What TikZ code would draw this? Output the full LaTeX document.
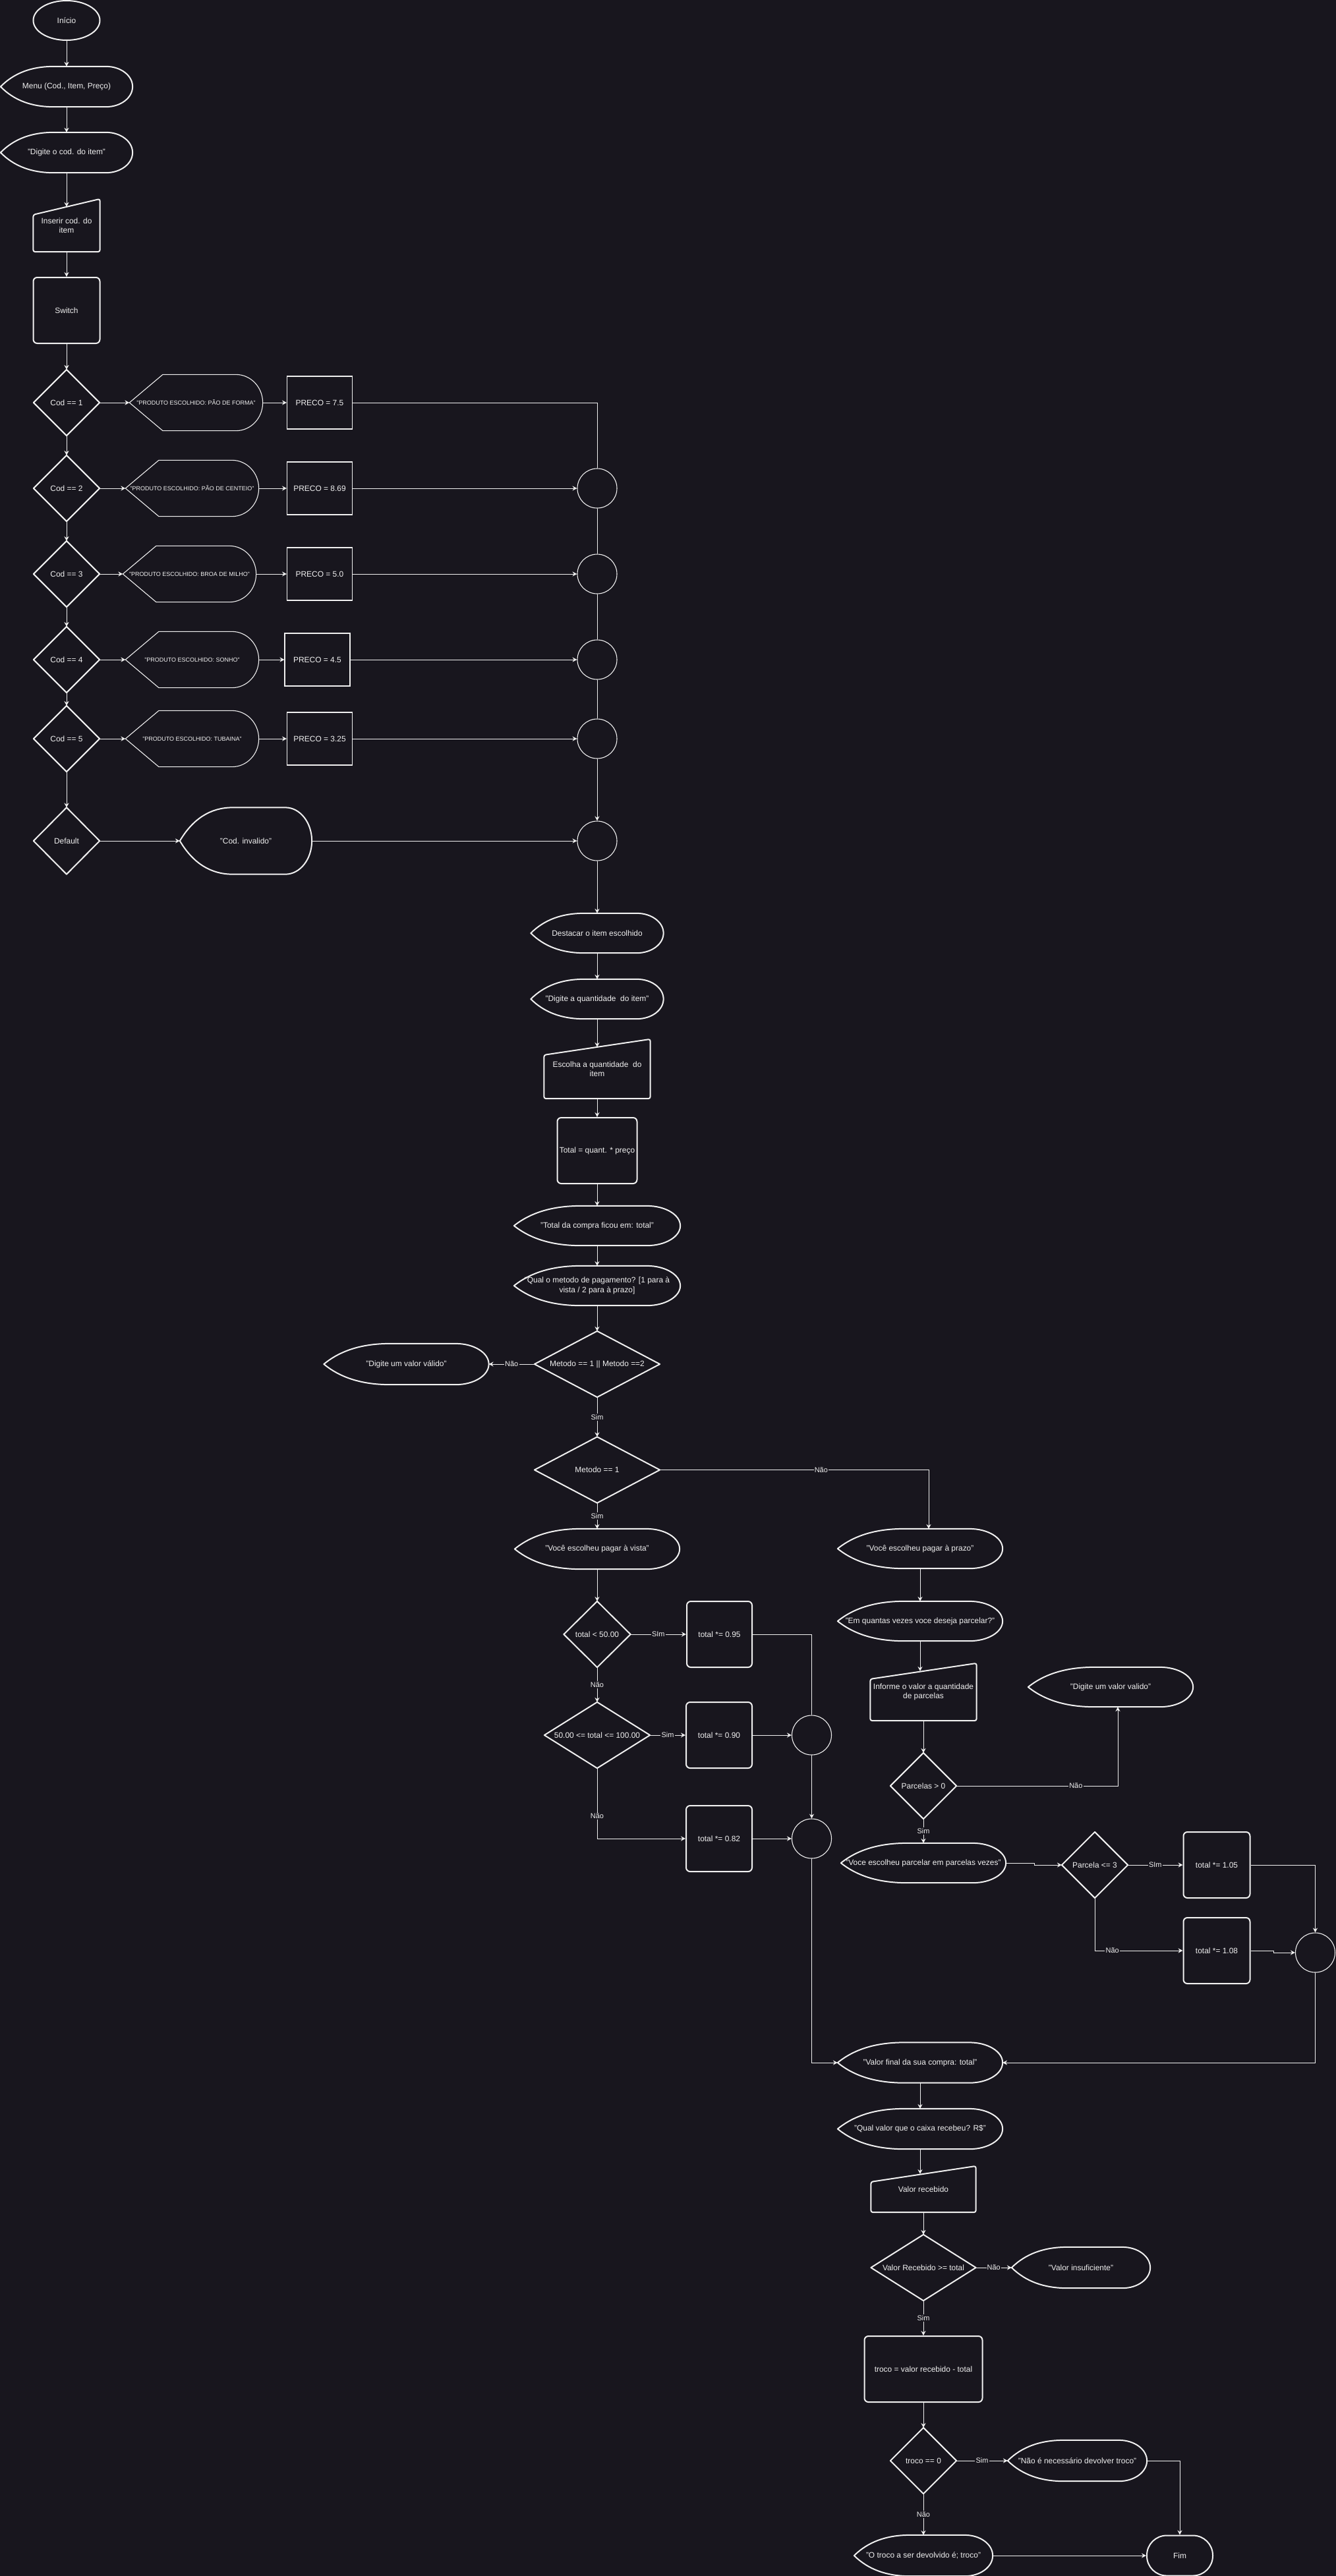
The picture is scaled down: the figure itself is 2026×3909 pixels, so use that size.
\documentclass[tikz,border=0pt]{standalone}
\usepackage{fontspec}
\setmainfont{Liberation Sans}
\usepackage{tikz}
\usetikzlibrary{shapes.geometric,arrows.meta,calc}
\definecolor{clrBg}{HTML}{18161E}
\definecolor{clrLine}{HTML}{F0F0F0}
\definecolor{clrTxt}{HTML}{F0F0F0}
\tikzset{
  sz/.style 2 args={minimum width=#1*0.5mm, minimum height=#2*0.5mm},
  box/.style={rectangle, inner sep=0pt, align=center, text=clrTxt,
    font=\fontsize{17}{20.5}\selectfont},
  prodbox/.style={box, font=\fontsize{12.8}{15}\selectfont},
  termin/.style={box, ellipse, draw=clrLine, line width=1mm},
  procbox/.style={box, draw=clrLine, line width=1mm, rounded corners=3mm},
  precobox/.style={box, draw=clrLine, line width=0.55mm},
  stadium/.style={box, draw=clrLine, line width=1mm, rounded corners=15mm},
  junc/.style={circle, draw=clrLine, line width=0.55mm, minimum size=30mm,
    inner sep=0pt},
  outl/.style={draw=clrLine, line width=1mm, line join=round},
  outlthin/.style={draw=clrLine, line width=0.55mm, line join=round},
  flow/.style={-{Stealth[length=3.5mm, width=3.6mm, inset=1.2mm]},
    line width=0.5mm, clrLine},
  bus/.style={line width=0.5mm, clrLine},
  lbl/.style={fill=clrBg, inner sep=0.6mm, text=clrTxt,
    font=\fontsize{15.6}{18}\selectfont},
}
\begin{document}
\begin{tikzpicture}[x=0.5mm, y=-0.5mm]
% Raster in Pixeln der Vorlage: 1 px = 0.5 mm, y waechst nach unten.
\useasboundingbox (0,0) rectangle (2026,3909);
\fill[clrBg] (-10,-10) rectangle (2036,3919);

% ── Inicio e leitura do codigo ─────────────────────────────────────────────
\node[termin, sz={101}{60}] (ini) at (101,31) {Início};
\node[box, sz={200}{61}] (menu) at (101,131.5) {Menu (Cod., Item, Preço)};
\node[box, sz={200}{61}] (digcod) at (101,231.5) {"Digite o cod. do item"};
\node[box, sz={101}{80}] (insc) at (101,342) {Inserir cod. do\\item};
\node[procbox, sz={101}{100}] (sw) at (101,471) {Switch};

% ── casos do switch ────────────────────────────────────────────────────────
\foreach \i/\y/\hx/\px/\txt/\val in {
    1/611/297.5/485/PÃO DE FORMA/7.5,
    2/741/291.5/485/PÃO DE CENTEIO/8.69,
    3/871/287.5/485/BROA DE MILHO/5.0,
    4/1001/291.5/481.5/SONHO/4.5,
    5/1121/291.5/485/TUBAINA/3.25}{
  \node[box, sz={100}{100}] (c\i) at (101,\y) {Cod == \i};
  \node[prodbox, sz={202}{85}] (h\i) at (\hx,\y) {"PRODUTO ESCOLHIDO: \txt"};
  \node[precobox, sz={99}{80}] (pr\i) at (\px,\y) {PRECO = \val};
}
\foreach \i/\y in {2/741,3/871,4/1001,5/1121}
  \node[junc] (k\i) at (906,\y) {};
\node[box, sz={100}{101}] (dflt) at (101,1276) {Default};
\node[box, sz={200}{101}] (inval) at (373,1276) {"Cod. invalido"};
\node[junc] (k6) at (906,1276) {};

% ── quantidade e metodo ────────────────────────────────────────────────────
\node[box, sz={201}{60}] (dest) at (906,1416) {Destacar o item escolhido};
\node[box, sz={201}{60}] (digq) at (906,1516) {"Digite a quantidade~ do item"};
\node[box, sz={161}{90}] (escq) at (906,1622) {Escolha a quantidade~ do\\item};
\node[procbox, sz={121}{100}] (tot) at (906,1746) {Total = quant. * preço};
\node[box, sz={252}{60}] (totc) at (906,1860) {"Total da compra ficou em: total"};
\node[box, sz={252}{60}] (qmet) at (906,1951)
  {"Qual o metodo de pagamento? [1 para à\\vista / 2 para à prazo]};
\node[box, sz={190}{100}] (dm1) at (906,2070) {Metodo == 1 || Metodo ==2};
\node[box, sz={250}{62}] (digv) at (616.5,2070) {"Digite um valor válido"};
\node[box, sz={190}{100}] (dm2) at (906,2230.5) {Metodo == 1};

% ── a vista ────────────────────────────────────────────────────────────────
\node[box, sz={250}{61}] (vista) at (906,2350.5) {"Você escolheu pagar à vista"};
\node[box, sz={101}{100}] (d50) at (906,2480) {total < 50.00};
\node[procbox, sz={99}{100}] (t95) at (1091.5,2480) {total *= 0.95};
\node[box, sz={160}{100}] (d100) at (906,2633) {50.00 <= total <= 100.00};
\node[procbox, sz={100}{100}] (t90) at (1091,2633) {total *= 0.90};
\node[procbox, sz={100}{100}] (t82) at (1091,2790) {total *= 0.82};
\node[junc] (ka) at (1231.5,2633) {};
\node[junc] (kb) at (1231.5,2790) {};

% ── a prazo ────────────────────────────────────────────────────────────────
\node[box, sz={250}{60}] (prazo) at (1396,2350) {"Você escolheu pagar à prazo"};
\node[box, sz={250}{60}] (quant) at (1396,2460)
  {"Em quantas vezes voce deseja parcelar?"};
\node[box, sz={161}{87}] (infp) at (1401,2567.5)
  {Informe o valor a quantidade\\de parcelas};
\node[box, sz={250}{60}] (digv2) at (1685,2560) {"Digite um valor valido"};
\node[box, sz={100}{100}] (dp0) at (1401,2710) {Parcelas > 0};
\node[box, sz={250}{60}] (parc) at (1401,2827)
  {"Voce escolheu parcelar em parcelas vezes"};
\node[box, sz={100}{100}] (dp3) at (1661,2830) {Parcela <= 3};
\node[procbox, sz={101}{100}] (t105) at (1846,2830) {total *= 1.05};
\node[procbox, sz={101}{100}] (t108) at (1846,2960) {total *= 1.08};
\node[junc] (kc) at (1995.5,2963) {};

% ── pagamento e troco ──────────────────────────────────────────────────────
\node[box, sz={250}{61}] (vfin) at (1396,3130) {"Valor final da sua compra: total"};
\node[box, sz={250}{61}] (qcx) at (1396,3230.5)
  {"Qual valor que o caixa recebeu? R\$"};
\node[box, sz={159}{70}] (vrec) at (1401,3322) {Valor recebido};
\node[box, sz={159}{100}] (drec) at (1401,3441) {Valor Recebido >= total};
\node[box, sz={210}{62}] (vins) at (1640,3441) {"Valor insuficiente"};
\node[procbox, sz={179}{100}] (troco) at (1401,3595)
  {troco = valor recebido - total};
\node[box, sz={100}{100}] (dt0) at (1401,3734) {troco == 0};
\node[box, sz={211}{62}] (nao) at (1634.5,3734)
  {"Não é necessário devolver troco"};
\node[box, sz={210}{62}] (otroco) at (1401,3878)
  {"O troco a ser devolvido é; troco"};
\node[stadium, sz={100}{61}] (fim) at (1790,3878) {Fim};

% ── contornos ──────────────────────────────────────────────────────────────
% display: ponta curva a esquerda, lado direito arredondado
\foreach \s in {menu,digcod,inval,dest,digq,totc,qmet,digv,vista,prazo,quant,
    digv2,parc,vfin,qcx,vins,nao,otroco}
  \draw[outl] let \p1=(\s.north west), \p2=(\s.south east), \p3=(\s.center) in
    (\x1,\y3) .. controls ({\x1+0.1*(\x2-\x1)},{\y1-(\y1-\y2)/6})
      and ({\x1+0.233*(\x2-\x1)},\y1) .. ({\x1+0.4*(\x2-\x1)},\y1)
    -- ({\x1+0.8*(\x2-\x1)},\y1)
    .. controls ({\x1+0.91*(\x2-\x1)},\y1) and (\x2,{\y3+0.552*(\y1-\y3)})
      .. (\x2,\y3)
    .. controls (\x2,{\y3-0.552*(\y1-\y3)}) and ({\x1+0.91*(\x2-\x1)},\y2)
      .. ({\x1+0.8*(\x2-\x1)},\y2)
    -- ({\x1+0.4*(\x2-\x1)},\y2)
    .. controls ({\x1+0.233*(\x2-\x1)},\y2) and ({\x1+0.1*(\x2-\x1)},{\y2+(\y1-\y2)/6})
      .. (\x1,\y3) -- cycle;
% produto: ponta reta
\foreach \s in {h1,h2,h3,h4,h5}
  \draw[outlthin] let \p1=(\s.north west), \p2=(\s.south east), \p3=(\s.center) in
    (\x1,\y3) -- ({\x1+0.25*(\x2-\x1)},\y1) -- ({\x1+0.8*(\x2-\x1)},\y1)
    .. controls ({\x1+0.91*(\x2-\x1)},\y1) and (\x2,{\y3+0.552*(\y1-\y3)})
      .. (\x2,\y3)
    .. controls (\x2,{\y3-0.552*(\y1-\y3)}) and ({\x1+0.91*(\x2-\x1)},\y2)
      .. ({\x1+0.8*(\x2-\x1)},\y2)
    -- ({\x1+0.25*(\x2-\x1)},\y2) -- cycle;
% entrada manual
\foreach \s in {insc,escq,infp,vrec}
  \draw[outl, rounded corners=1.5mm] let \p1=(\s.north west), \p2=(\s.south east) in
    ({(\x1+\x2)/2},\y2) -- (\x1,\y2) -- (\x1,{\y1-12mm}) -- (\x2,\y1)
    -- (\x2,\y2) -- cycle;
% decisoes
\foreach \s in {c1,c2,c3,c4,c5,dflt,dm1,dm2,d50,d100,dp0,dp3,drec,dt0}
  \draw[outl] (\s.north) -- (\s.east) -- (\s.south) -- (\s.west) -- cycle;

\coordinate (inscin) at ([yshift=-6mm]insc.north);
\coordinate (escqin) at ([yshift=-6mm]escq.north);
\coordinate (infpin) at ([yshift=-6mm]infp.north);
\coordinate (vrecin) at ([yshift=-6mm]vrec.north);

% ── ligacoes: menu e switch ────────────────────────────────────────────────
\draw[flow] (ini.south) -- (menu.north);
\draw[flow] (menu.south) -- (digcod.north);
\draw[flow] (digcod.south) -- (inscin);
\draw[flow] (insc.south) -- (sw.north);
\draw[flow] (sw.south) -- (c1.north);
\foreach \a/\b in {1/2,2/3,3/4,4/5}
  \draw[flow] (c\a.south) -- (c\b.north);
\draw[flow] (c5.south) -- (dflt.north);
\foreach \i in {1,...,5}{
  \draw[flow] (c\i.east) -- (h\i.west);
  \draw[flow] (h\i.east) -- (pr\i.west);
}
\draw[bus] (pr1.east) -| (k2.north);
\foreach \i in {2,...,5}
  \draw[flow] (pr\i.east) -- (k\i.west);
\foreach \a/\b in {2/3,3/4,4/5}
  \draw[bus] (k\a.south) -- (k\b.north);
\draw[flow] (k5.south) -- (k6.north);
\draw[flow] (dflt.east) -- (inval.west);
\draw[flow] (inval.east) -- (k6.west);

% ── ligacoes: quantidade e metodo ──────────────────────────────────────────
\draw[flow] (k6.south) -- (dest.north);
\draw[flow] (dest.south) -- (digq.north);
\draw[flow] (digq.south) -- (escqin);
\draw[flow] (escq.south) -- (tot.north);
\draw[flow] (tot.south) -- (totc.north);
\draw[flow] (totc.south) -- (qmet.north);
\draw[flow] (qmet.south) -- (dm1.north);
\draw[flow] (dm1.west) -- node[lbl] {Não} (digv.east);
\draw[flow] (dm1.south) -- node[lbl] {Sim} (dm2.north);
\draw[flow] (dm2.east) -| node[lbl, pos=0.3] {Não} ([xshift=6.5mm]prazo.north);
\draw[flow] (dm2.south) -- node[lbl] {Sim} (vista.north);

% ── ligacoes: a vista ──────────────────────────────────────────────────────
\draw[flow] (vista.south) -- (d50.north);
\draw[flow] (d50.east) -- node[lbl] {SIm} (t95.west);
\draw[flow] (d50.south) -- node[lbl] {Não} (d100.north);
\draw[flow] (d100.east) -- node[lbl] {Sim} (t90.west);
\draw[flow] (d100.south) |- node[lbl, pos=0.34] {Não} (t82.west);
\draw[bus] (t95.east) -| (ka.north);
\draw[flow] (t90.east) -- (ka.west);
\draw[flow] (ka.south) -- (kb.north);
\draw[flow] (t82.east) -- (kb.west);
\draw[flow] (kb.south) |- (vfin.west);

% ── ligacoes: a prazo ──────────────────────────────────────────────────────
\draw[flow] (prazo.south) -- (quant.north);
\draw[flow] (quant.south) -- (quant.south |- infpin);
\draw[flow] (infp.south) -- (dp0.north);
\draw[flow] (dp0.east) -| node[lbl, pos=0.37] {Não} ([xshift=5.5mm]digv2.south);
\draw[flow] (dp0.south) -- node[lbl] {Sim} (parc.north);
\draw[flow] (parc.east) -- ++(43,0) |- (dp3.west);
\draw[flow] (dp3.east) -- node[lbl] {SIm} (t105.west);
\draw[flow] (dp3.south) |- node[lbl, pos=0.6] {Não} (t108.west);
\draw[flow] (t105.east) -| (kc.north);
\draw[flow] (t108.east) -- ++(35,0) |- (kc.west);
\draw[flow] (kc.south) |- (vfin.east);

% ── ligacoes: pagamento e troco ────────────────────────────────────────────
\draw[flow] (vfin.south) -- (qcx.north);
\draw[flow] (qcx.south) -- (qcx.south |- vrecin);
\draw[flow] (vrec.south) -- (drec.north);
\draw[flow] (drec.east) -- node[lbl] {Não} (vins.west);
\draw[flow] (drec.south) -- node[lbl] {Sim} (troco.north);
\draw[flow] (troco.south) -- (dt0.north);
\draw[flow] (dt0.east) -- node[lbl] {Sim} (nao.west);
\draw[flow] (dt0.south) -- node[lbl] {Não} (otroco.north);
\draw[flow] (nao.east) -| (fim.north);
\draw[flow] (otroco.east) -- (fim.west);

\end{tikzpicture}
\end{document}
